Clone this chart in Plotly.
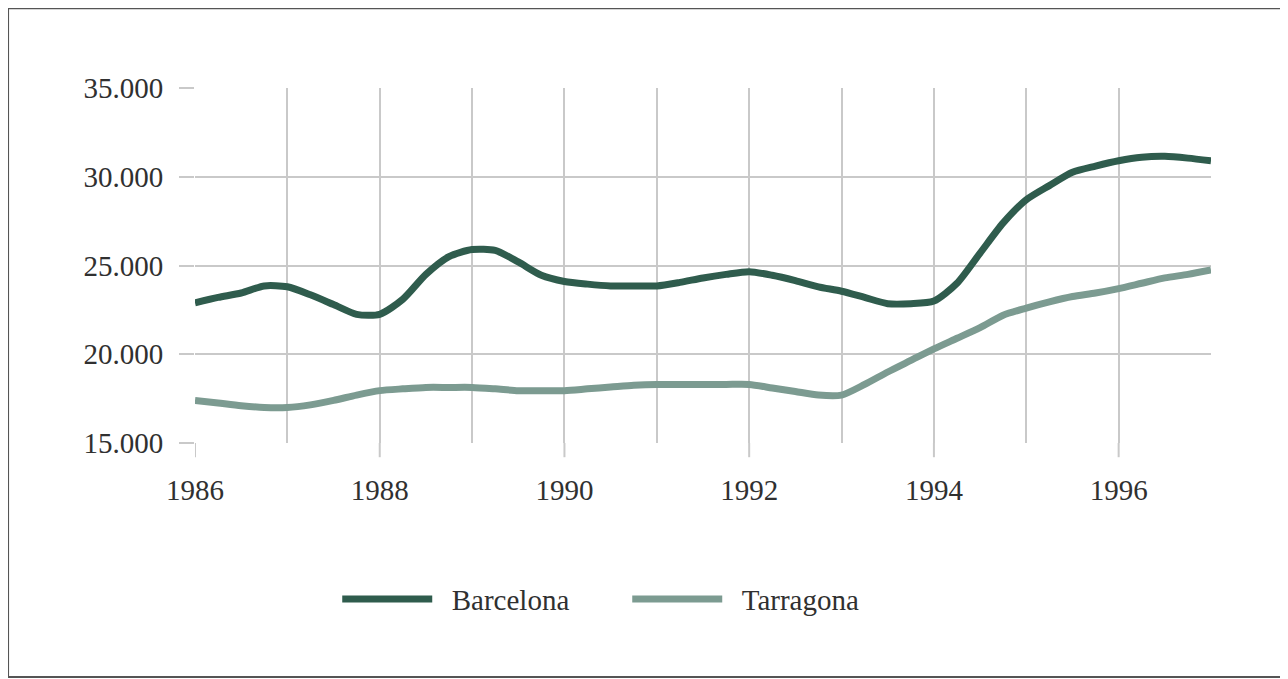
import plotly.graph_objects as go

quarters = [1986 + 0.25 * i for i in range(45)]

barcelona = [
    22900, 23200, 23450, 23850, 23800, 23350, 22800, 22250, 22250,
    23100, 24500, 25500, 25900, 25850, 25200, 24450, 24100, 23950,
    23850, 23850, 23850, 24050, 24300, 24500, 24650, 24450, 24150,
    23800, 23550, 23200, 22850, 22850, 23000, 24000, 25700, 27400,
    28700, 29500, 30250, 30600, 30900, 31100, 31150, 31050, 30900,
]

tarragona = [
    17400, 17250, 17100, 17000, 17000, 17150, 17400, 17700, 17950,
    18050, 18130, 18130, 18130, 18050, 17950, 17950, 17950, 18050,
    18150, 18250, 18300, 18300, 18300, 18300, 18300, 18100, 17900,
    17700, 17700, 18300, 19000, 19650, 20300, 20900, 21500, 22200,
    22600, 22950, 23250, 23450, 23700, 24000, 24300, 24500, 24750,
]

series_names = ["Barcelona", "Tarragona"]

year_ticks = list(range(1986, 1998))
year_labels = [str(y) if y % 2 == 0 else "" for y in year_ticks]
y_ticks = [15000, 20000, 25000, 30000, 35000]

serif = "Liberation Serif, Times New Roman, serif"
grid = "#c9c9c9"
txt = "#303030"

fig = go.Figure()
fig.add_trace(go.Scatter(
    x=quarters, y=barcelona, name="\u2002" + series_names[0], mode="lines",
    line=dict(color="#2f5c4d", width=7, shape="spline", smoothing=0.7),
))
fig.add_trace(go.Scatter(
    x=quarters, y=tarragona, name="\u2002" + series_names[1], mode="lines",
    line=dict(color="#7c9b91", width=7, shape="spline", smoothing=0.7),
))

fig.update_layout(
    width=1288, height=679,
    margin=dict(l=187, r=85, t=80, b=244),
    paper_bgcolor="white", plot_bgcolor="white",
    separators=",.",
    font=dict(family=serif, size=29, color=txt),
    showlegend=True,
    legend=dict(
        orientation="h", x=0.14, xanchor="left", y=-0.44, yanchor="middle",
        font=dict(family=serif, size=29, color=txt),
        itemwidth=90, entrywidth=185, entrywidthmode="pixels",
        tracegroupgap=0, bgcolor="rgba(0,0,0,0)",
    ),
    xaxis=dict(
        range=[1986, 1997], tickmode="array", tickvals=year_ticks, ticktext=year_labels,
        showgrid=True, gridcolor=grid, gridwidth=2, zeroline=False, showline=False,
        ticks="", ticklabelstandoff=27,
        tickfont=dict(family=serif, size=29, color=txt),
    ),
    yaxis=dict(
        range=[15000, 35000], tickmode="array", tickvals=y_ticks, tickformat=",d",
        showgrid=True, gridcolor=grid, gridwidth=2, zeroline=False, showline=False,
        ticks="outside", ticklen=15, tickcolor=grid, tickwidth=2, ticklabelstandoff=10,
        tickfont=dict(family=serif, size=29, color=txt),
    ),
)

# even-year tick marks below the axis
for yv in year_ticks[::2]:
    fig.add_shape(type="line", xref="x", yref="paper", x0=yv, x1=yv, y0=0, y1=-0.04,
                  line=dict(color=grid, width=2))

# outer frame
fig.add_shape(type="rect", xref="paper", yref="paper",
              x0=-0.184, x1=1.069, y0=-0.659, y1=1.225,
              line=dict(color="#555555", width=2), layer="below")

fig.write_html("out.html")
